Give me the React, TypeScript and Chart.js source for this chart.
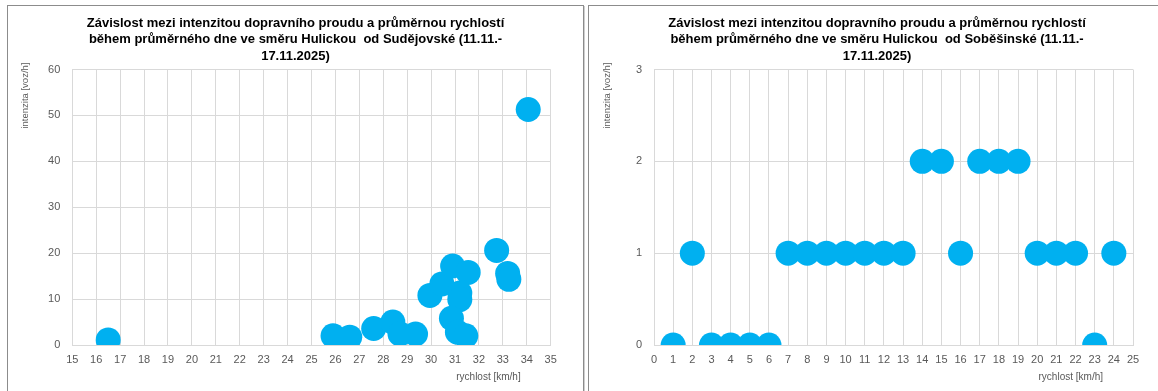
import React, { useEffect, useRef } from "react";
import { Chart, registerables } from "chart.js";

Chart.register(...registerables);

const FONT = "'Liberation Sans', Arial, sans-serif";

// ---- Left chart data (Hulickou od Sudějovské) ----
const leftTitle = [
  "Závislost mezi intenzitou dopravního proudu a průměrnou rychlostí",
  "během průměrného dne ve směru Hulickou  od Sudějovské (11.11.-",
  "17.11.2025)",
];
const leftSpeed = [16.5, 25.9, 26.6, 27.6, 28.4, 28.7, 29.35, 29.95, 30.45, 30.9, 31.55, 31.2, 31.2, 30.85, 31.1, 31.45, 32.74, 33.2, 33.25, 34.06];
const leftIntensity = [1.1, 2.0, 1.7, 3.6, 5.0, 2.4, 2.4, 10.8, 13.3, 17.2, 15.8, 11.3, 9.9, 5.8, 2.8, 2.0, 20.6, 15.6, 14.3, 51.3];
const leftXRange = [15, 35];
const leftYRange = [0, 60];
const leftYStep = 10;

// ---- Right chart data (Hulickou od Soběšinské) ----
const rightTitle = [
  "Závislost mezi intenzitou dopravního proudu a průměrnou rychlostí",
  "během průměrného dne ve směru Hulickou  od Soběšinské (11.11.-",
  "17.11.2025)",
];
const rightSpeed = [1, 2, 3, 4, 5, 6, 7, 8, 9, 10, 11, 12, 13, 14, 15, 16, 17, 18, 19, 20, 21, 22, 23, 24];
const rightIntensity = [0, 1, 0, 0, 0, 0, 1, 1, 1, 1, 1, 1, 1, 2, 2, 1, 2, 2, 2, 1, 1, 1, 0, 1];
const rightXRange = [0, 25];
const rightYRange = [0, 3];
const rightYStep = 1;

const xAxisTitle = "rychlost [km/h]";
const yAxisTitle = "intenzita [voz/h]";

const axisTitlePlugin = {
  id: "axisTitles",
  afterDraw(chart: any, _args: any, opts: any) {
    const { ctx, chartArea } = chart;
    ctx.save();
    ctx.fillStyle = "#595959";
    ctx.font = `9.5px ${FONT}`;
    ctx.translate(chartArea.left - 47, chartArea.top - 7);
    ctx.rotate(-Math.PI / 2);
    ctx.textAlign = "right";
    ctx.textBaseline = "middle";
    ctx.fillText(opts.yTitle, 0, 0);
    ctx.restore();
    ctx.save();
    ctx.fillStyle = "#595959";
    ctx.font = `10px ${FONT}`;
    ctx.textAlign = "right";
    ctx.textBaseline = "middle";
    ctx.fillText(opts.xTitle, chartArea.right - 30, chartArea.bottom + 32);
    ctx.restore();
  },
};

type Props = {
  title: string[];
  xs: number[];
  ys: number[];
  xRange: number[];
  yRange: number[];
  yStep: number;
  width: number;
  height: number;
  plotLeft: number;
  padSide: number;
};

function ScatterPanel(p: Props) {
  const ref = useRef<HTMLCanvasElement>(null);
  useEffect(() => {
    if (!ref.current) return;
    const points = p.xs.map((x, i) => ({ x, y: p.ys[i] }));
    const chart = new Chart(ref.current, {
      type: "scatter",
      data: {
        datasets: [
          {
            data: points,
            backgroundColor: "#00B0F0",
            borderWidth: 0,
            pointRadius: 12.5,
            pointHoverRadius: 12.5,
          },
        ],
      },
      options: {
        animation: false,
        responsive: false,
        maintainAspectRatio: false,
        events: [],
        layout: { padding: { left: p.padSide, right: p.padSide, top: 0, bottom: 0 } },
        plugins: {
          legend: { display: false },
          tooltip: { enabled: false },
          title: {
            display: true,
            text: p.title,
            color: "#000000",
            font: { family: FONT, size: 13, weight: "bold", lineHeight: 1.27 },
            padding: { top: 9, bottom: 5 },
          },
          axisTitles: { xTitle: xAxisTitle, yTitle: yAxisTitle },
        } as any,
        scales: {
          x: {
            type: "linear",
            min: p.xRange[0],
            max: p.xRange[1],
            ticks: { stepSize: 1, color: "#595959", font: { family: FONT, size: 11 }, padding: 8 },
            grid: { color: "#d9d9d9", drawTicks: false },
            border: { color: "#d9d9d9" },
            afterFit: (s: any) => {
              s.height = 46;
            },
          },
          y: {
            type: "linear",
            min: p.yRange[0],
            max: p.yRange[1],
            ticks: { stepSize: p.yStep, color: "#595959", font: { family: FONT, size: 11 }, padding: 12 },
            grid: { color: "#d9d9d9", drawTicks: false },
            border: { color: "#d9d9d9" },
            afterFit: (s: any) => {
              s.width = p.plotLeft - p.padSide;
            },
          },
        },
      },
      plugins: [axisTitlePlugin],
    });
    return () => chart.destroy();
  }, []);
  return <canvas ref={ref} width={p.width} height={p.height} style={{ width: p.width, height: p.height, display: "block" }} />;
}

export default function App() {
  return (
    <div style={{ position: "fixed", left: 0, top: 0, width: 1158, height: 391, overflow: "hidden", background: "#fff" }}>
      <div
        style={{
          position: "absolute",
          left: 7,
          top: 5,
          width: 575,
          height: 400,
          border: "1px solid #8c8c8c",
          boxShadow: "1px 1px 0 #cfcfcf",
        }}
      >
        <ScatterPanel
          title={leftTitle}
          xs={leftSpeed}
          ys={leftIntensity}
          xRange={leftXRange}
          yRange={leftYRange}
          yStep={leftYStep}
          width={575}
          height={385}
          plotLeft={64.3}
          padSide={32.3}
        />
      </div>
      <div
        style={{
          position: "absolute",
          left: 588,
          top: 5,
          width: 576,
          height: 400,
          border: "1px solid #8c8c8c",
          boxShadow: "1px 1px 0 #cfcfcf",
        }}
      >
        <ScatterPanel
          title={rightTitle}
          xs={rightSpeed}
          ys={rightIntensity}
          xRange={rightXRange}
          yRange={rightYRange}
          yStep={rightYStep}
          width={576}
          height={385}
          plotLeft={65}
          padSide={32}
        />
      </div>
    </div>
  );
}
